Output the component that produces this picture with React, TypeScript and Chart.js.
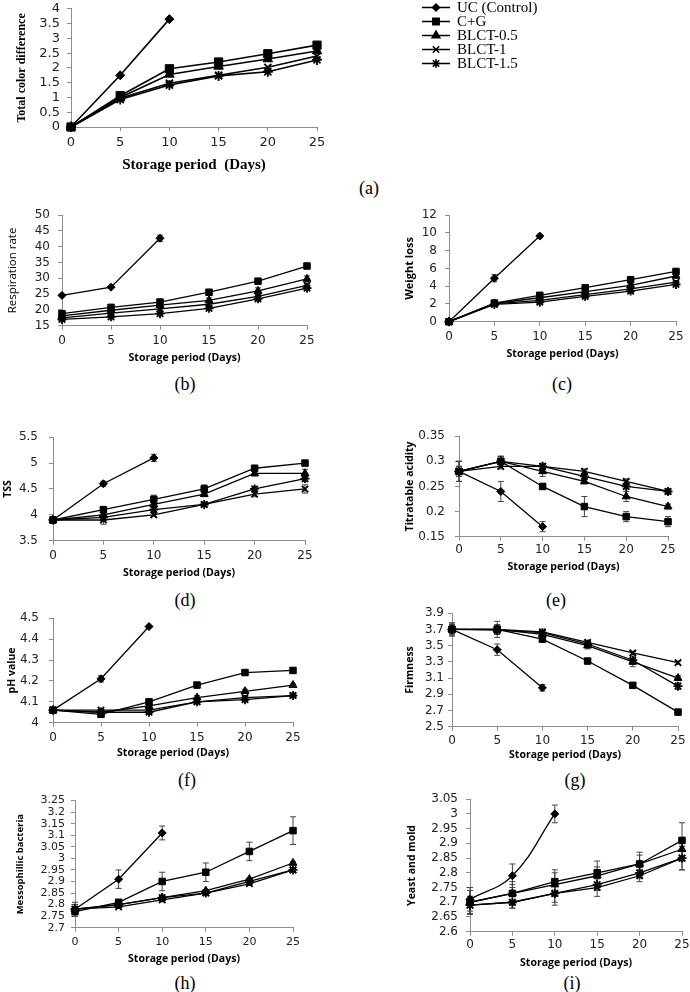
import React, { useEffect, useRef } from 'react';
import { Chart, registerables } from 'chart.js';
import { drawPoint } from 'chart.js/helpers';

Chart.register(...registerables);

// ---------- shared data ----------
const DAYS = [0, 5, 10, 15, 20, 25];
const SERIES = ['UC (Control)', 'C+G', 'BLCT-0.5', 'BLCT-1', 'BLCT-1.5'];
const MARKERS = ['rectRot', 'rect', 'triangle', 'crossRot', 'star'];

// (a) Total color difference
const colorDiffTicks = [0, 0.5, 1, 1.5, 2, 2.5, 3, 3.5, 4];
const colorDiff = [
  [0, 1.75, 3.65],
  [0, 1.06, 1.97, 2.2, 2.48, 2.77],
  [0, 1.0, 1.78, 2.05, 2.3, 2.57],
  [0, 0.97, 1.48, 1.75, 2.02, 2.4],
  [0, 0.93, 1.42, 1.73, 1.87, 2.27],
];
const colorDiffErr = [
  [0, 0.05, 0.04],
  [0, 0, 0, 0, 0, 0],
  [0, 0, 0, 0, 0, 0],
  [0, 0, 0, 0, 0, 0],
  [0, 0, 0, 0, 0, 0],
];

// (b) Respiration rate
const respTicks = [15, 20, 25, 30, 35, 40, 45, 50];
const resp = [
  [24.6, 27.2, 42.7],
  [18.8, 20.8, 22.5, 25.6, 29.1, 33.9],
  [18.1, 19.9, 21.5, 23.0, 26.0, 29.8],
  [17.5, 19.0, 20.3, 21.8, 24.3, 27.8],
  [17.0, 17.8, 18.8, 20.5, 23.5, 26.9],
];
const respErr = [
  [0.3, 0.4, 1.0],
  [0.5, 0.4, 0.4, 0.4, 0.5, 0.6],
  [0.4, 0.4, 0.4, 0.8, 1.0, 1.0],
  [0.3, 0.3, 0.3, 0.8, 0.6, 0.6],
  [0.3, 0.3, 0.3, 0.5, 0.5, 0.5],
];

// (c) Weight loss
const weightTicks = [0, 2, 4, 6, 8, 10, 12];
const weight = [
  [0, 4.9, 9.65],
  [0, 2.1, 2.97, 3.83, 4.73, 5.66],
  [0, 2.05, 2.7, 3.4, 4.1, 5.15],
  [0, 2.0, 2.4, 3.05, 3.7, 4.45],
  [0, 1.95, 2.2, 2.85, 3.45, 4.2],
];
const weightErr = [
  [0, 0.4, 0.2],
  [0, 0.15, 0.1, 0.1, 0.1, 0.1],
  [0, 0.1, 0.1, 0.1, 0.1, 0.15],
  [0, 0.1, 0.1, 0.1, 0.1, 0.15],
  [0, 0.1, 0.1, 0.1, 0.1, 0.15],
];

// (d) TSS
const tssTicks = [3.5, 4, 4.5, 5, 5.5];
const tss = [
  [3.9, 4.6, 5.1],
  [3.9, 4.1, 4.3, 4.5, 4.9, 5.0],
  [3.9, 4.0, 4.2, 4.4, 4.8, 4.8],
  [3.9, 3.9, 4.0, 4.2, 4.4, 4.5],
  [3.9, 3.95, 4.1, 4.2, 4.5, 4.7],
];
const tssErr = [
  [0.05, 0.05, 0.07],
  [0.05, 0.05, 0.08, 0.08, 0.04, 0.03],
  [0.05, 0.05, 0.05, 0.05, 0.05, 0.08],
  [0.05, 0.08, 0.03, 0.04, 0.05, 0.08],
  [0.05, 0.05, 0.05, 0.04, 0.05, 0.06],
];

// (e) Titratable acidity
const acidTicks = [0.15, 0.2, 0.25, 0.3, 0.35];
const acid = [
  [0.28, 0.24, 0.17],
  [0.28, 0.30, 0.25, 0.21, 0.19, 0.18],
  [0.28, 0.30, 0.28, 0.26, 0.23, 0.21],
  [0.28, 0.29, 0.29, 0.28, 0.26, 0.24],
  [0.28, 0.30, 0.29, 0.27, 0.25, 0.24],
];
const acidErr = [
  [0.02, 0.02, 0.01],
  [0.02, 0.01, 0.005, 0.02, 0.01, 0.01],
  [0.02, 0.01, 0.01, 0.005, 0.01, 0.005],
  [0.01, 0.005, 0.005, 0.005, 0.005, 0.005],
  [0.01, 0.01, 0.005, 0.005, 0.005, 0.005],
];

// (f) pH value
const phTicks = [4, 4.1, 4.2, 4.3, 4.4, 4.5];
const ph = [
  [4.06, 4.21, 4.46],
  [4.06, 4.04, 4.10, 4.18, 4.24, 4.25],
  [4.06, 4.05, 4.08, 4.12, 4.15, 4.18],
  [4.06, 4.06, 4.06, 4.10, 4.12, 4.13],
  [4.06, 4.05, 4.05, 4.10, 4.11, 4.13],
];
const phErr = [
  [0.01, 0.015, 0.005],
  [0.01, 0.005, 0.005, 0.01, 0.005, 0.005],
  [0.01, 0.005, 0.01, 0.01, 0.01, 0.005],
  [0.01, 0.005, 0.01, 0.005, 0.01, 0.005],
  [0.01, 0.005, 0.01, 0.005, 0.01, 0.005],
];

// (g) Firmness
const firmTicks = [2.5, 2.7, 2.9, 3.1, 3.3, 3.5, 3.7, 3.9];
const firm = [
  [3.7, 3.45, 2.98],
  [3.7, 3.7, 3.58, 3.31, 3.01, 2.68],
  [3.7, 3.7, 3.64, 3.5, 3.3, 3.1],
  [3.7, 3.7, 3.67, 3.54, 3.41, 3.29],
  [3.7, 3.69, 3.66, 3.52, 3.32, 3.0],
];
const firmErr = [
  [0.08, 0.07, 0.04],
  [0.08, 0.1, 0.03, 0.02, 0.02, 0.02],
  [0.06, 0.06, 0.03, 0.04, 0.06, 0.03],
  [0.05, 0.05, 0.02, 0.02, 0.02, 0.02],
  [0.05, 0.05, 0.03, 0.03, 0.05, 0.04],
];

// (h) Messophillic bacteria
const bactTicks = [2.7, 2.75, 2.8, 2.85, 2.9, 2.95, 3, 3.05, 3.1, 3.15, 3.2, 3.25];
const bact = [
  [2.78, 2.91, 3.11],
  [2.77, 2.81, 2.90, 2.94, 3.03, 3.12],
  [2.78, 2.80, 2.83, 2.86, 2.91, 2.98],
  [2.78, 2.79, 2.82, 2.85, 2.89, 2.95],
  [2.78, 2.80, 2.83, 2.85, 2.90, 2.95],
];
const bactErr = [
  [0.03, 0.04, 0.03],
  [0.02, 0.01, 0.04, 0.04, 0.04, 0.06],
  [0.02, 0.005, 0.005, 0.005, 0.005, 0.005],
  [0.02, 0.005, 0.005, 0.005, 0.005, 0.005],
  [0.02, 0.005, 0.005, 0.005, 0.005, 0.005],
];

// (i) Yeast and mold
const yeastTicks = [2.6, 2.65, 2.7, 2.75, 2.8, 2.85, 2.9, 2.95, 3, 3.05];
const yeast = [
  [2.71, 2.79, 3.0],
  [2.70, 2.73, 2.77, 2.80, 2.83, 2.91],
  [2.70, 2.73, 2.76, 2.79, 2.83, 2.88],
  [2.69, 2.70, 2.73, 2.75, 2.79, 2.85],
  [2.69, 2.70, 2.73, 2.76, 2.80, 2.85],
];
const yeastErr = [
  [0.04, 0.04, 0.03],
  [0.04, 0.04, 0.04, 0.04, 0.04, 0.06],
  [0.04, 0.03, 0.04, 0.03, 0.03, 0.04],
  [0.03, 0.02, 0.04, 0.03, 0.02, 0.04],
  [0.03, 0.02, 0.03, 0.02, 0.02, 0.04],
];

// ---------- layout ----------
const SANS = "'Open Sans', sans-serif";
const TICKFONT = "'DejaVu Sans', sans-serif";
const SERIF = "'Liberation Serif', 'Times New Roman', serif";

type Cfg = {
  key: string;
  yTitle: string;
  yTicks: number[];
  data: number[][];
  err: number[][];
  plot: { l: number; r: number; t: number; b: number };
  cl: number;
  titleX: number;
  tickY: number;
  tickGap: number;
  tickSize: number;
  xTitleY: number;
  xTitle: string;
  label: string;
  labelX: number;
  labelY: number;
  serif?: boolean;
  yTitleSize: number;
  yTitleWeight: string;
  ucTension?: number;
  legend?: boolean;
};

const PANELS: Cfg[] = [
  { key: 'a', yTitle: 'Total color difference', yTicks: colorDiffTicks, data: colorDiff, err: colorDiffErr,
    plot: { l: 71, r: 317, t: 4, b: 127 }, cl: 0, titleX: 22, tickY: 143, tickGap: 11, tickSize: 13, xTitleY: 165,
    xTitle: 'Storage period  (Days)', label: '(a)', labelX: 369, labelY: 188, serif: true, yTitleSize: 12, yTitleWeight: 'bold', legend: true },
  { key: 'b', yTitle: 'Respiration rate', yTicks: respTicks, data: resp, err: respErr,
    plot: { l: 62, r: 307, t: 210, b: 326 }, cl: 0, titleX: 13, tickY: 341, tickGap: 12, tickSize: 12, xTitleY: 358,
    xTitle: 'Storage period (Days)', label: '(b)', labelX: 185, labelY: 384, yTitleSize: 11.5, yTitleWeight: 'normal' },
  { key: 'c', yTitle: 'Weight loss', yTicks: weightTicks, data: weight, err: weightErr,
    plot: { l: 449, r: 676, t: 210, b: 322 }, cl: 345, titleX: 410, tickY: 337, tickGap: 12, tickSize: 12, xTitleY: 354,
    xTitle: 'Storage period (Days)', label: '(c)', labelX: 562, labelY: 384, yTitleSize: 11, yTitleWeight: 'bold' },
  { key: 'd', yTitle: 'TSS', yTicks: tssTicks, data: tss, err: tssErr,
    plot: { l: 53, r: 305, t: 429, b: 541 }, cl: 0, titleX: 8, tickY: 556, tickGap: 15, tickSize: 12, xTitleY: 573,
    xTitle: 'Storage period (Days)', label: '(d)', labelX: 185, labelY: 600, yTitleSize: 10.5, yTitleWeight: 'bold' },
  { key: 'e', yTitle: 'Titratable acidity', yTicks: acidTicks, data: acid, err: acidErr,
    plot: { l: 459, r: 668, t: 429, b: 537 }, cl: 345, titleX: 410, tickY: 550, tickGap: 14, tickSize: 12, xTitleY: 567,
    xTitle: 'Storage period (Days)', label: '(e)', labelX: 556, labelY: 600, yTitleSize: 10.5, yTitleWeight: 'bold' },
  { key: 'f', yTitle: 'pH value', yTicks: phTicks, data: ph, err: phErr,
    plot: { l: 53, r: 293, t: 611, b: 723 }, cl: 0, titleX: 12, tickY: 738, tickGap: 14, tickSize: 12, xTitleY: 753,
    xTitle: 'Storage period (Days)', label: '(f)', labelX: 187, labelY: 780, yTitleSize: 10.5, yTitleWeight: 'bold' },
  { key: 'g', yTitle: 'Firmness', yTicks: firmTicks, data: firm, err: firmErr,
    plot: { l: 452, r: 678, t: 612, b: 727 }, cl: 345, titleX: 410, tickY: 741, tickGap: 8, tickSize: 12, xTitleY: 755,
    xTitle: 'Storage period (Days)', label: '(g)', labelX: 575, labelY: 780, yTitleSize: 10.5, yTitleWeight: 'bold' },
  { key: 'h', yTitle: 'Messophillic bacteria', yTicks: bactTicks, data: bact, err: bactErr,
    plot: { l: 75, r: 293, t: 798, b: 928 }, cl: 0, titleX: 20, tickY: 942, tickGap: 10, tickSize: 11, xTitleY: 959,
    xTitle: 'Storage period (Days)', label: '(h)', labelX: 185, labelY: 983, yTitleSize: 9.5, yTitleWeight: 'bold' },
  { key: 'i', yTitle: 'Yeast and mold', yTicks: yeastTicks, data: yeast, err: yeastErr,
    plot: { l: 470, r: 682, t: 794, b: 932 }, cl: 345, titleX: 412, tickY: 945, tickGap: 12, tickSize: 12, xTitleY: 963,
    xTitle: 'Storage period (Days)', label: '(i)', labelX: 572, labelY: 983, yTitleSize: 10.5, yTitleWeight: 'bold', ucTension: 0.4 },
];

const LEGEND_ROWS_Y = [7.5, 21.5, 35.5, 49.5, 63.5];
const LEGEND_LINE = { x1: 422, x2: 450, textX: 457 };

const errorBarPlugin = {
  id: 'errorBars',
  beforeDatasetsDraw(chart: any) {
    const ctx = chart.ctx;
    const ys = chart.scales.y;
    chart.data.datasets.forEach((ds: any, di: number) => {
      const meta = chart.getDatasetMeta(di);
      const errs: number[] = ds.errors;
      if (!errs) return;
      ds.data.forEach((p: any, i: number) => {
        const e = errs[i];
        if (!e) return;
        const x = meta.data[i].x;
        const y1 = ys.getPixelForValue(p.y + e);
        const y2 = ys.getPixelForValue(p.y - e);
        ctx.save();
        ctx.strokeStyle = '#444';
        ctx.lineWidth = 1;
        ctx.beginPath();
        ctx.moveTo(x, y1);
        ctx.lineTo(x, y2);
        ctx.moveTo(x - 3, y1);
        ctx.lineTo(x + 3, y1);
        ctx.moveTo(x - 3, y2);
        ctx.lineTo(x + 3, y2);
        ctx.stroke();
        ctx.restore();
      });
    });
  },
};

function makeLegendPlugin(canvasLeft: number, canvasTop: number) {
  return {
    id: 'seriesLegend',
    afterDraw(chart: any) {
      const ctx = chart.ctx;
      ctx.save();
      SERIES.forEach((name, i) => {
        const y = LEGEND_ROWS_Y[i] - canvasTop;
        const x1 = LEGEND_LINE.x1 - canvasLeft;
        const x2 = LEGEND_LINE.x2 - canvasLeft;
        ctx.strokeStyle = '#000';
        ctx.fillStyle = '#000';
        ctx.lineWidth = 1.5;
        ctx.beginPath();
        ctx.moveTo(x1, y);
        ctx.lineTo(x2, y);
        ctx.stroke();
        drawPoint(ctx, { pointStyle: MARKERS[i], radius: i === 0 ? 3.5 : 4.5, rotation: 0, borderWidth: i >= 3 ? 1.8 : 1 }, (x1 + x2) / 2, y);
        ctx.fillStyle = '#000';
        ctx.font = `15px ${SERIF}`;
        ctx.textBaseline = 'middle';
        ctx.textAlign = 'left';
        ctx.fillText(name, LEGEND_LINE.textX - canvasLeft, y + 1);
      });
      ctx.restore();
    },
  };
}

function Panel({ cfg }: { cfg: Cfg }) {
  const ref = useRef<HTMLCanvasElement>(null);
  const padTop = 10;
  const padRight = cfg.legend ? 690 - cfg.plot.r : 14;
  const tickSize = cfg.tickSize;
  const xTitleSize = cfg.serif ? 15 : 10.5;
  const xTitleLH = xTitleSize * 1.2;
  const yTitleLH = cfg.yTitleSize * 1.2;
  const canvasLeft = cfg.cl;
  const canvasTop = cfg.plot.t - padTop;
  const canvasBottom = cfg.xTitleY + xTitleLH / 2 + 2;
  const Wy = cfg.plot.l - canvasLeft;
  const Hx = canvasBottom - cfg.plot.b;
  const width = Wy + (cfg.plot.r - cfg.plot.l) + padRight;
  const height = padTop + (cfg.plot.b - cfg.plot.t) + Hx;

  useEffect(() => {
    const big = !!cfg.serif;
    const radii = big ? [4.5, 5.8, 5.5, 5, 5] : [4, 4.6, 4.6, 4.5, 4.5];
    const datasets = cfg.data.map((vals, si) => ({
      label: SERIES[si],
      data: vals.map((v, i) => ({ x: DAYS[i], y: v })),
      errors: cfg.err[si],
      borderColor: '#000',
      backgroundColor: '#000',
      pointBackgroundColor: '#000',
      pointBorderColor: '#000',
      borderWidth: big ? 1.6 : 1.3,
      pointStyle: MARKERS[si],
      pointRadius: radii[si],
      pointBorderWidth: si >= 3 ? 1.8 : 1,
      tension: si === 0 ? cfg.ucTension || 0 : 0,
      clip: false,
    }));
    const axisColor = '#8c8c8c';
    const chart = new Chart(ref.current as HTMLCanvasElement, {
      type: 'line',
      data: { datasets: datasets as any },
      options: {
        animation: false,
        responsive: false,
        maintainAspectRatio: false,
        devicePixelRatio: 1,
        events: [],
        layout: { padding: { top: padTop, right: padRight, left: 0, bottom: 0 } },
        plugins: { legend: { display: false }, tooltip: { enabled: false }, title: { display: false } },
        scales: {
          x: {
            type: 'linear',
            min: 0,
            max: 25,
            afterBuildTicks: (s: any) => { s.ticks = DAYS.map((v) => ({ value: v })); },
            afterFit: (s: any) => { s.height = Hx; },
            grid: { display: true, drawOnChartArea: false, drawTicks: true, tickLength: 4, color: axisColor },
            border: { display: true, color: axisColor, width: 1 },
            ticks: {
              color: '#222',
              font: { family: TICKFONT, size: tickSize },
              padding: cfg.tickY - cfg.plot.b - 4 - tickSize * 0.6,
              maxRotation: 0,
              autoSkip: false,
              callback: (v: any) => String(v),
            },
            title: {
              display: true,
              text: cfg.xTitle,
              color: '#000',
              font: { family: big ? SERIF : SANS, size: xTitleSize, weight: 'bold' },
              padding: { top: 0, bottom: 2 },
            },
          },
          y: {
            type: 'linear',
            min: cfg.yTicks[0],
            max: cfg.yTicks[cfg.yTicks.length - 1],
            afterBuildTicks: (s: any) => { s.ticks = cfg.yTicks.map((v) => ({ value: v })); },
            afterFit: (s: any) => { s.width = Wy; },
            grid: { display: true, drawOnChartArea: false, drawTicks: true, tickLength: 4, color: axisColor },
            border: { display: true, color: axisColor, width: 1 },
            ticks: {
              color: '#222',
              font: { family: TICKFONT, size: tickSize },
              padding: cfg.tickGap - 4,
              autoSkip: false,
              callback: (v: any) => String(+Number(v).toFixed(3)),
            },
            title: {
              display: true,
              text: cfg.yTitle,
              color: '#000',
              font: { family: big ? SERIF : SANS, size: cfg.yTitleSize, weight: cfg.yTitleWeight as any },
              padding: { top: Math.max(0, cfg.titleX - canvasLeft - yTitleLH / 2), bottom: 0 },
            },
          },
        },
      } as any,
      plugins: [errorBarPlugin as any, ...(cfg.legend ? [makeLegendPlugin(canvasLeft, canvasTop) as any] : [])],
    });
    return () => chart.destroy();
  }, []);

  return (
    <>
      <canvas
        ref={ref}
        width={width}
        height={height}
        style={{ position: 'absolute', left: canvasLeft, top: canvasTop, width, height }}
      />
      <div
        style={{
          position: 'absolute',
          left: cfg.labelX,
          top: cfg.labelY,
          transform: 'translate(-50%, -50%)',
          fontFamily: SERIF,
          fontSize: 18,
          lineHeight: '20px',
          color: '#000',
          whiteSpace: 'nowrap',
        }}
      >
        {cfg.label}
      </div>
    </>
  );
}

export default function App() {
  return (
    <div
      style={{
        position: 'absolute',
        left: 0,
        top: 0,
        width: 690,
        height: 992,
        overflow: 'hidden',
        background: '#fff',
      }}
    >
      {PANELS.map((p) => (
        <Panel key={p.key} cfg={p} />
      ))}
    </div>
  );
}
